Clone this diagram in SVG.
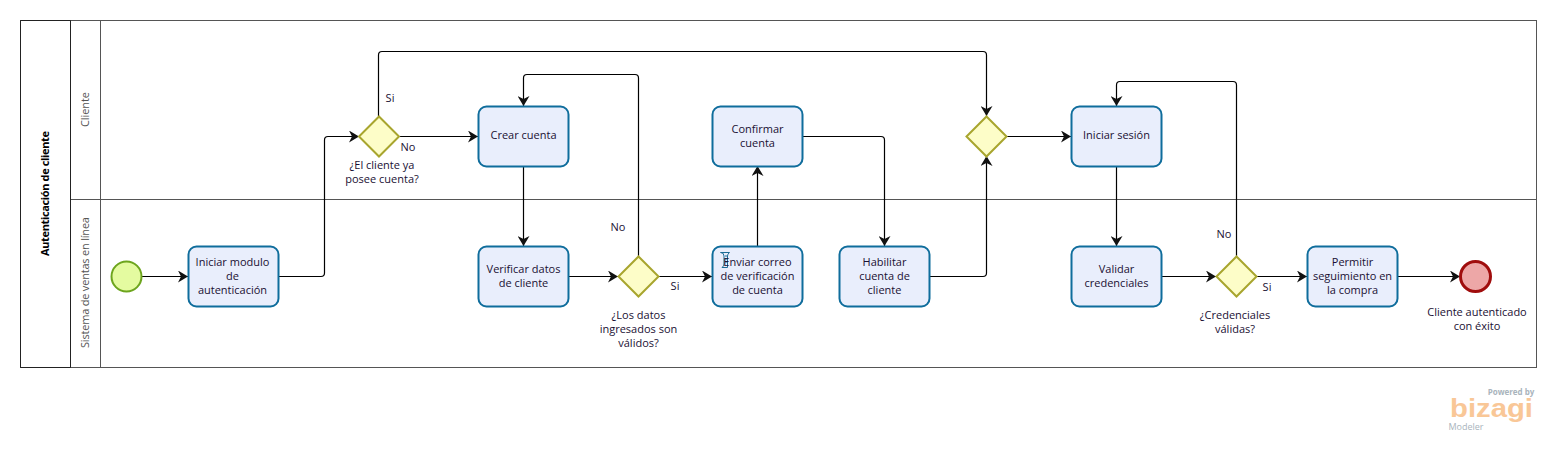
<svg xmlns="http://www.w3.org/2000/svg" width="1556" height="460" viewBox="0 0 1556 460">
<style>
text{font-family:"Open Sans","Noto Sans","Liberation Sans",sans-serif;font-size:11px;fill:#1a1033;text-anchor:middle}
.pool{fill:#fff;stroke:#555;stroke-width:1}
.task{fill:#e9eefc;stroke:#0f6d9c;stroke-width:2}
.gw{fill:#fdfdc8;stroke:#a8a52e;stroke-width:2}
.flow{fill:none;stroke:#000;stroke-width:1.2;marker-end:url(#arrow)}
</style>
<defs>
<marker id="arrow" markerUnits="userSpaceOnUse" markerWidth="11" markerHeight="12" refX="10" refY="6" orient="auto"><path d="M0 0L10 6L0 12L3 6Z" fill="#111"/></marker>
</defs>
<rect width="1556" height="460" fill="#fff"/>
<g id="pool">
<rect class="pool" x="20.5" y="20.5" width="1516" height="347"/>
<path d="M70.5 20.5V367.5M100.5 20.5V367.5M70.5 199.5H1536.5" fill="none" stroke="#555"/>
<path d="M20.5 20.5H70.5V367.5H20.5Z" fill="none" stroke="#222"/>
<text transform="translate(49,193.500) rotate(-90)" textLength="125" style="font-weight:700;fill:#000">Autenticación de cliente</text>
<text transform="translate(89,109.500) rotate(-90)" textLength="35" style="fill:#555">Cliente</text>
<text transform="translate(89,282.500) rotate(-90)" textLength="131" style="fill:#555">Sistema de ventas en línea</text>
</g>
<g id="connectors">
<path class="flow" d="M142 276.500H188"/>
<path class="flow" d="M279 276.500H321Q324.500 276.500 324.500 273V140Q324.500 136.500 328 136.500H359"/>
<path class="flow" d="M378.500 116V55Q378.500 51.500 382 51.500H983Q986.500 51.500 986.500 55V116"/>
<path class="flow" d="M399 136.500H478"/>
<path class="flow" d="M523.500 166V246"/>
<path class="flow" d="M569 276.500H618"/>
<path class="flow" d="M638.500 256V78Q638.500 74.500 635 74.500H527Q523.500 74.500 523.500 78V106"/>
<path class="flow" d="M658 276.500H712"/>
<path class="flow" d="M757.500 246V166"/>
<path class="flow" d="M803 136.500H881Q884.500 136.500 884.500 140V246"/>
<path class="flow" d="M930 276.500H983Q986.500 276.500 986.500 273V156"/>
<path class="flow" d="M1006 136.500H1071"/>
<path class="flow" d="M1116.500 166V246"/>
<path class="flow" d="M1162 276.500H1216"/>
<path class="flow" d="M1236.500 256V85Q1236.500 81.500 1233 81.500H1120Q1116.500 81.500 1116.500 85V106"/>
<path class="flow" d="M1256 276.500H1307"/>
<path class="flow" d="M1398 276.500H1460"/>
<text x="390" y="102">Si</text>
<text x="408" y="151">No</text>
<text x="618" y="231">No</text>
<text x="675" y="290">Si</text>
<text x="1224" y="238">No</text>
<text x="1267" y="291">Si</text>
</g>
<g id="start"><circle cx="126.500" cy="276.500" r="15" fill="#e4fba0" stroke="#6da51e" stroke-width="2"/></g>
<g id="t1"><rect class="task" x="188.500" y="246.500" width="90" height="60" rx="8"/><text x="232.500" y="266">Iniciar modulo</text><text x="232.500" y="280">de</text><text x="232.500" y="294">autenticación</text></g>
<g id="g1"><path class="gw" d="M379 116.500L399 136.500L379 156.500L359 136.500Z"/><text x="382" y="169">¿El cliente ya</text><text x="382" y="183">posee cuenta?</text></g>
<g id="t2"><rect class="task" x="478.500" y="106.500" width="90" height="60" rx="8"/><text x="523.500" y="139">Crear cuenta</text></g>
<g id="t3"><rect class="task" x="478.500" y="246.500" width="90" height="60" rx="8"/><text x="523.500" y="273">Verificar datos</text><text x="523.500" y="287">de cliente</text></g>
<g id="g2"><path class="gw" d="M638.500 256.500L658.500 276.500L638.500 296.500L618.500 276.500Z"/><text x="638.500" y="319">¿Los datos</text><text x="638.500" y="333">ingresados son</text><text x="638.500" y="347">válidos?</text></g>
<g id="t4"><rect class="task" x="712.500" y="246.500" width="90" height="60" rx="8"/><path d="M720.500 252.500H729.500Q727.500 254 727.500 256V267.500H722Q724 266 724 264V256Q724 252.500 720.500 252.500ZM725 256H727M725 259H727M725 262H727" fill="none" stroke="#1b6c96" stroke-width="1"/><text x="757.500" y="266">Enviar correo</text><text x="757.500" y="280">de verificación</text><text x="757.500" y="294">de cuenta</text></g>
<g id="t5"><rect class="task" x="712.500" y="106.500" width="90" height="60" rx="8"/><text x="757.500" y="133">Confirmar</text><text x="757.500" y="147">cuenta</text></g>
<g id="t6"><rect class="task" x="839.500" y="246.500" width="90" height="60" rx="8"/><text x="884.500" y="266">Habilitar</text><text x="884.500" y="280">cuenta de</text><text x="884.500" y="294">cliente</text></g>
<g id="g3"><path class="gw" d="M986.500 116.500L1006.500 136.500L986.500 156.500L966.500 136.500Z"/></g>
<g id="t7"><rect class="task" x="1071.500" y="106.500" width="90" height="60" rx="8"/><text x="1116.500" y="139">Iniciar sesión</text></g>
<g id="t8"><rect class="task" x="1071.500" y="246.500" width="90" height="60" rx="8"/><text x="1116.500" y="273">Validar</text><text x="1116.500" y="287">credenciales</text></g>
<g id="g4"><path class="gw" d="M1236.500 256.500L1256.500 276.500L1236.500 296.500L1216.500 276.500Z"/><text x="1235" y="319">¿Credenciales</text><text x="1235" y="333">válidas?</text></g>
<g id="t9"><rect class="task" x="1307.500" y="246.500" width="90" height="60" rx="8"/><text x="1352.500" y="266">Permitir</text><text x="1352.500" y="280">seguimiento en</text><text x="1352.500" y="294">la compra</text></g>
<g id="end"><circle cx="1475.500" cy="276.500" r="15" fill="#eda7a7" stroke="#a00d0d" stroke-width="3"/><text x="1477" y="316">Cliente autenticado</text><text x="1477" y="330">con éxito</text></g>
<g id="brand">
<text x="1511" y="395" style="font-size:8px;font-weight:700;fill:#a9b4bc">Powered by</text>
<text x="1491.500" y="417" textLength="83" lengthAdjust="spacingAndGlyphs" style="font-size:25px;font-family:'Liberation Sans',sans-serif;font-weight:700;fill:#f9c797">bizagi</text>
<text x="1466" y="430" style="font-size:9px;fill:#a9b4bc">Modeler</text>
</g>
</svg>
